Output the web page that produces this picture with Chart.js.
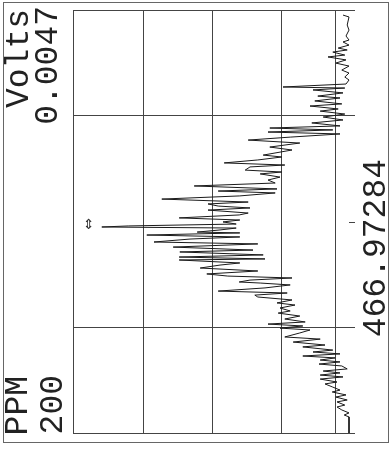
<!DOCTYPE html>
<html>
<head>
<meta charset="utf-8">
<script src="https://cdn.jsdelivr.net/npm/chart.js@4.4.1/dist/chart.umd.min.js"></script>
<style>
  body { margin: 0; background: #fff; }
  #wrap { position: relative; width: 391px; height: 450px; }
  #frame { position: absolute; left: 3px; top: 2px; width: 384px; height: 439px; border: 1px solid #666; }
  .lab {
    position: absolute;
    font-family: "Liberation Mono", monospace;
    font-size: 33px;
    line-height: 33px;
    color: #222;
    writing-mode: vertical-rl;
    transform: rotate(180deg);
    white-space: nowrap;
  }
  #cursor { position: absolute; left: 83px; top: 216px; font: 14px "DejaVu Sans"; color: #333; }
</style>
</head>
<body>
<div id="wrap">
  <canvas id="chart"></canvas>
  <div id="frame"></div>
  <div class="lab" style="left:3px;top:9px">Volts</div>
  <div class="lab" style="left:32px;top:6px">0.0047</div>
  <div class="lab" style="left:2px;top:376px">PPM</div>
  <div class="lab" style="left:37px;top:375px">200</div>
  <div class="lab" style="left:360px;top:159px">466.97284</div>
  <div id="cursor">⇕</div>
</div>
<script>
// spectrum: position in ppm, signal in mV
var ppm = [2.4, 3.3, 7.1, 9.5, 12.3, 14.2, 15.1, 16.6, 18.0, 18.9,
  19.9, 21.3, 22.2, 23.6, 25.1, 26.5, 28.4, 29.8, 31.7, 33.1,
  35.0, 36.4, 36.9, 37.8, 39.2, 40.7, 41.6, 43.0, 44.4, 45.4,
  46.8, 47.8, 49.2, 50.6, 52.0, 53.4, 54.8, 55.8, 56.7, 57.7,
  58.6, 60.1, 61.5, 62.9, 64.8, 66.2, 68.6, 69.5, 70.9, 72.3,
  73.3, 74.2, 75.7, 76.6, 77.5, 79.0, 80.4, 81.8, 83.2, 84.6,
  85.6, 86.5, 87.9, 89.4, 90.8, 91.7, 92.7, 93.6, 94.6, 96.0,
  96.9, 98.3, 99.3, 100.2, 101.2, 102.1, 102.6, 103.1, 104.0, 105.0,
  105.4, 106.4, 107.3, 108.3, 109.7, 110.6, 112.1, 113.5, 114.4, 115.8,
  116.8, 117.7, 118.2, 119.6, 120.6, 122.0, 123.4, 124.8, 125.8, 126.7,
  127.7, 128.6, 129.1, 130.0, 131.4, 132.9, 133.8, 134.8, 135.7, 137.1,
  138.5, 139.5, 140.9, 142.3, 143.3, 144.7, 146.1, 147.5, 148.5, 149.4,
  150.4, 151.3, 152.7, 154.6, 155.6, 157.0, 158.4, 159.3, 160.8, 161.7,
  162.6, 163.6, 164.5, 165.5, 166.4, 167.4, 168.3, 169.7, 170.7, 171.6,
  172.6, 173.5, 174.5, 175.9, 176.8, 178.3, 179.7, 180.6, 182.0, 183.0,
  184.4, 185.3, 186.8, 187.7, 189.1, 190.5, 191.5, 192.4, 200.0];
var signal = [0.20, 0.10, 0.13, 0.10, 0.15, 0.10, 0.20, 0.10, 0.28, 0.13,
  0.37, 0.17, 0.45, 0.15, 0.32, 0.10, 0.22, 0.10, 0.17, 0.10,
  0.15, 1.20, 0.17, 0.70, 0.20, 0.62, 0.25, 0.67, 0.22, 0.75,
  0.28, 0.58, 0.17, 0.53, 0.20, 0.72, 0.25, 1.42, 0.37, 1.45,
  0.25, 1.08, 1.78, 0.92, 1.42, 1.05, 1.53, 1.22, 1.62, 2.18,
  1.17, 1.75, 1.83, 1.22, 1.58, 1.25, 1.45, 1.33, 2.68, 1.30,
  2.28, 1.33, 1.92, 3.22, 1.78, 2.45, 2.28, 1.75, 2.45, 1.78,
  1.93, 2.93, 1.92, 2.20, 1.98, 3.78, 4.22, 1.98, 2.25, 2.63,
  1.92, 3.47, 1.92, 2.75, 3.35, 1.62, 3.03, 1.70, 2.92, 1.53,
  2.93, 1.50, 2.93, 1.92, 2.25, 2.58, 1.62, 2.47, 2.12, 1.05,
  1.75, 1.93, 1.58, 1.08, 1.50, 2.28, 1.13, 1.67, 1.62, 1.05,
  1.30, 1.00, 1.25, 1.08, 1.28, 0.92, 1.17, 0.83, 1.45, 0.87,
  1.25, 0.75, 0.92, 1.17, 0.58, 1.03, 0.50, 0.87, 0.37, 0.70,
  0.25, 0.87, 0.33, 0.58, 0.25, 0.60, 0.22, 0.13, 0.53, 0.25,
  0.58, 0.20, 0.58, 0.30, 0.50, 0.37, 0.25, 0.38, 0.15, 0.32,
  0.13, 0.30, 0.17, 0.30, 0.22, 0.10, 0.18, 0.10, 0.10];

// grid positions
var voltGrid = [4.7, 3.53, 2.38, 1.23, 0.33];
var ppmGrid = [0, 50, 100, 150, 200];
var baseline = 0.1;

var points = ppm.map((p, i) => ({ x: signal[i], y: p }));

// short mark at 100 ppm on the baseline side
const midTick = {
  id: 'midTick',
  afterDatasetsDraw(chart) {
    const ctx = chart.ctx, xs = chart.scales.x, ys = chart.scales.y
    const y = Math.round(ys.getPixelForValue(100)) + 0.5
    ctx.save()
    ctx.strokeStyle = '#444'
    ctx.lineWidth = 1
    ctx.beginPath()
    ctx.moveTo(xs.getPixelForValue(baseline), y)
    ctx.lineTo(xs.getPixelForValue(0), y)
    ctx.stroke()
    ctx.restore()
  }
}

new Chart(document.getElementById('chart'), {
  type: 'scatter',
  data: {
    datasets: [{
      data: points,
      showLine: true,
      borderColor: '#1a1a1a',
      borderWidth: 1,
      pointRadius: 0,
      tension: 0
    }]
  },
  options: {
    responsive: true,
    maintainAspectRatio: false,
    animation: false,
    layout: { padding: { left: 73, top: 10, right: 36, bottom: 17 } },
    plugins: { legend: { display: false }, tooltip: { enabled: false } },
    scales: {
      x: {
        type: 'linear', min: 0, max: 4.7, reverse: true,
        afterBuildTicks: (s) => { s.ticks = voltGrid.map(v => ({ value: v })) },
        ticks: { display: false },
        grid: { color: '#444', drawTicks: false },
        border: { display: false }
      },
      y: {
        type: 'linear', min: 0, max: 200, reverse: true,
        afterBuildTicks: (s) => { s.ticks = ppmGrid.map(v => ({ value: v })) },
        ticks: { display: false },
        grid: {
          color: (c) => c.tick && c.tick.value == 100 ? 'rgba(0,0,0,0)' : '#444',
          drawTicks: false
        },
        border: { display: false }
      }
    }
  },
  plugins: [midTick]
});
</script>
</body>
</html>
